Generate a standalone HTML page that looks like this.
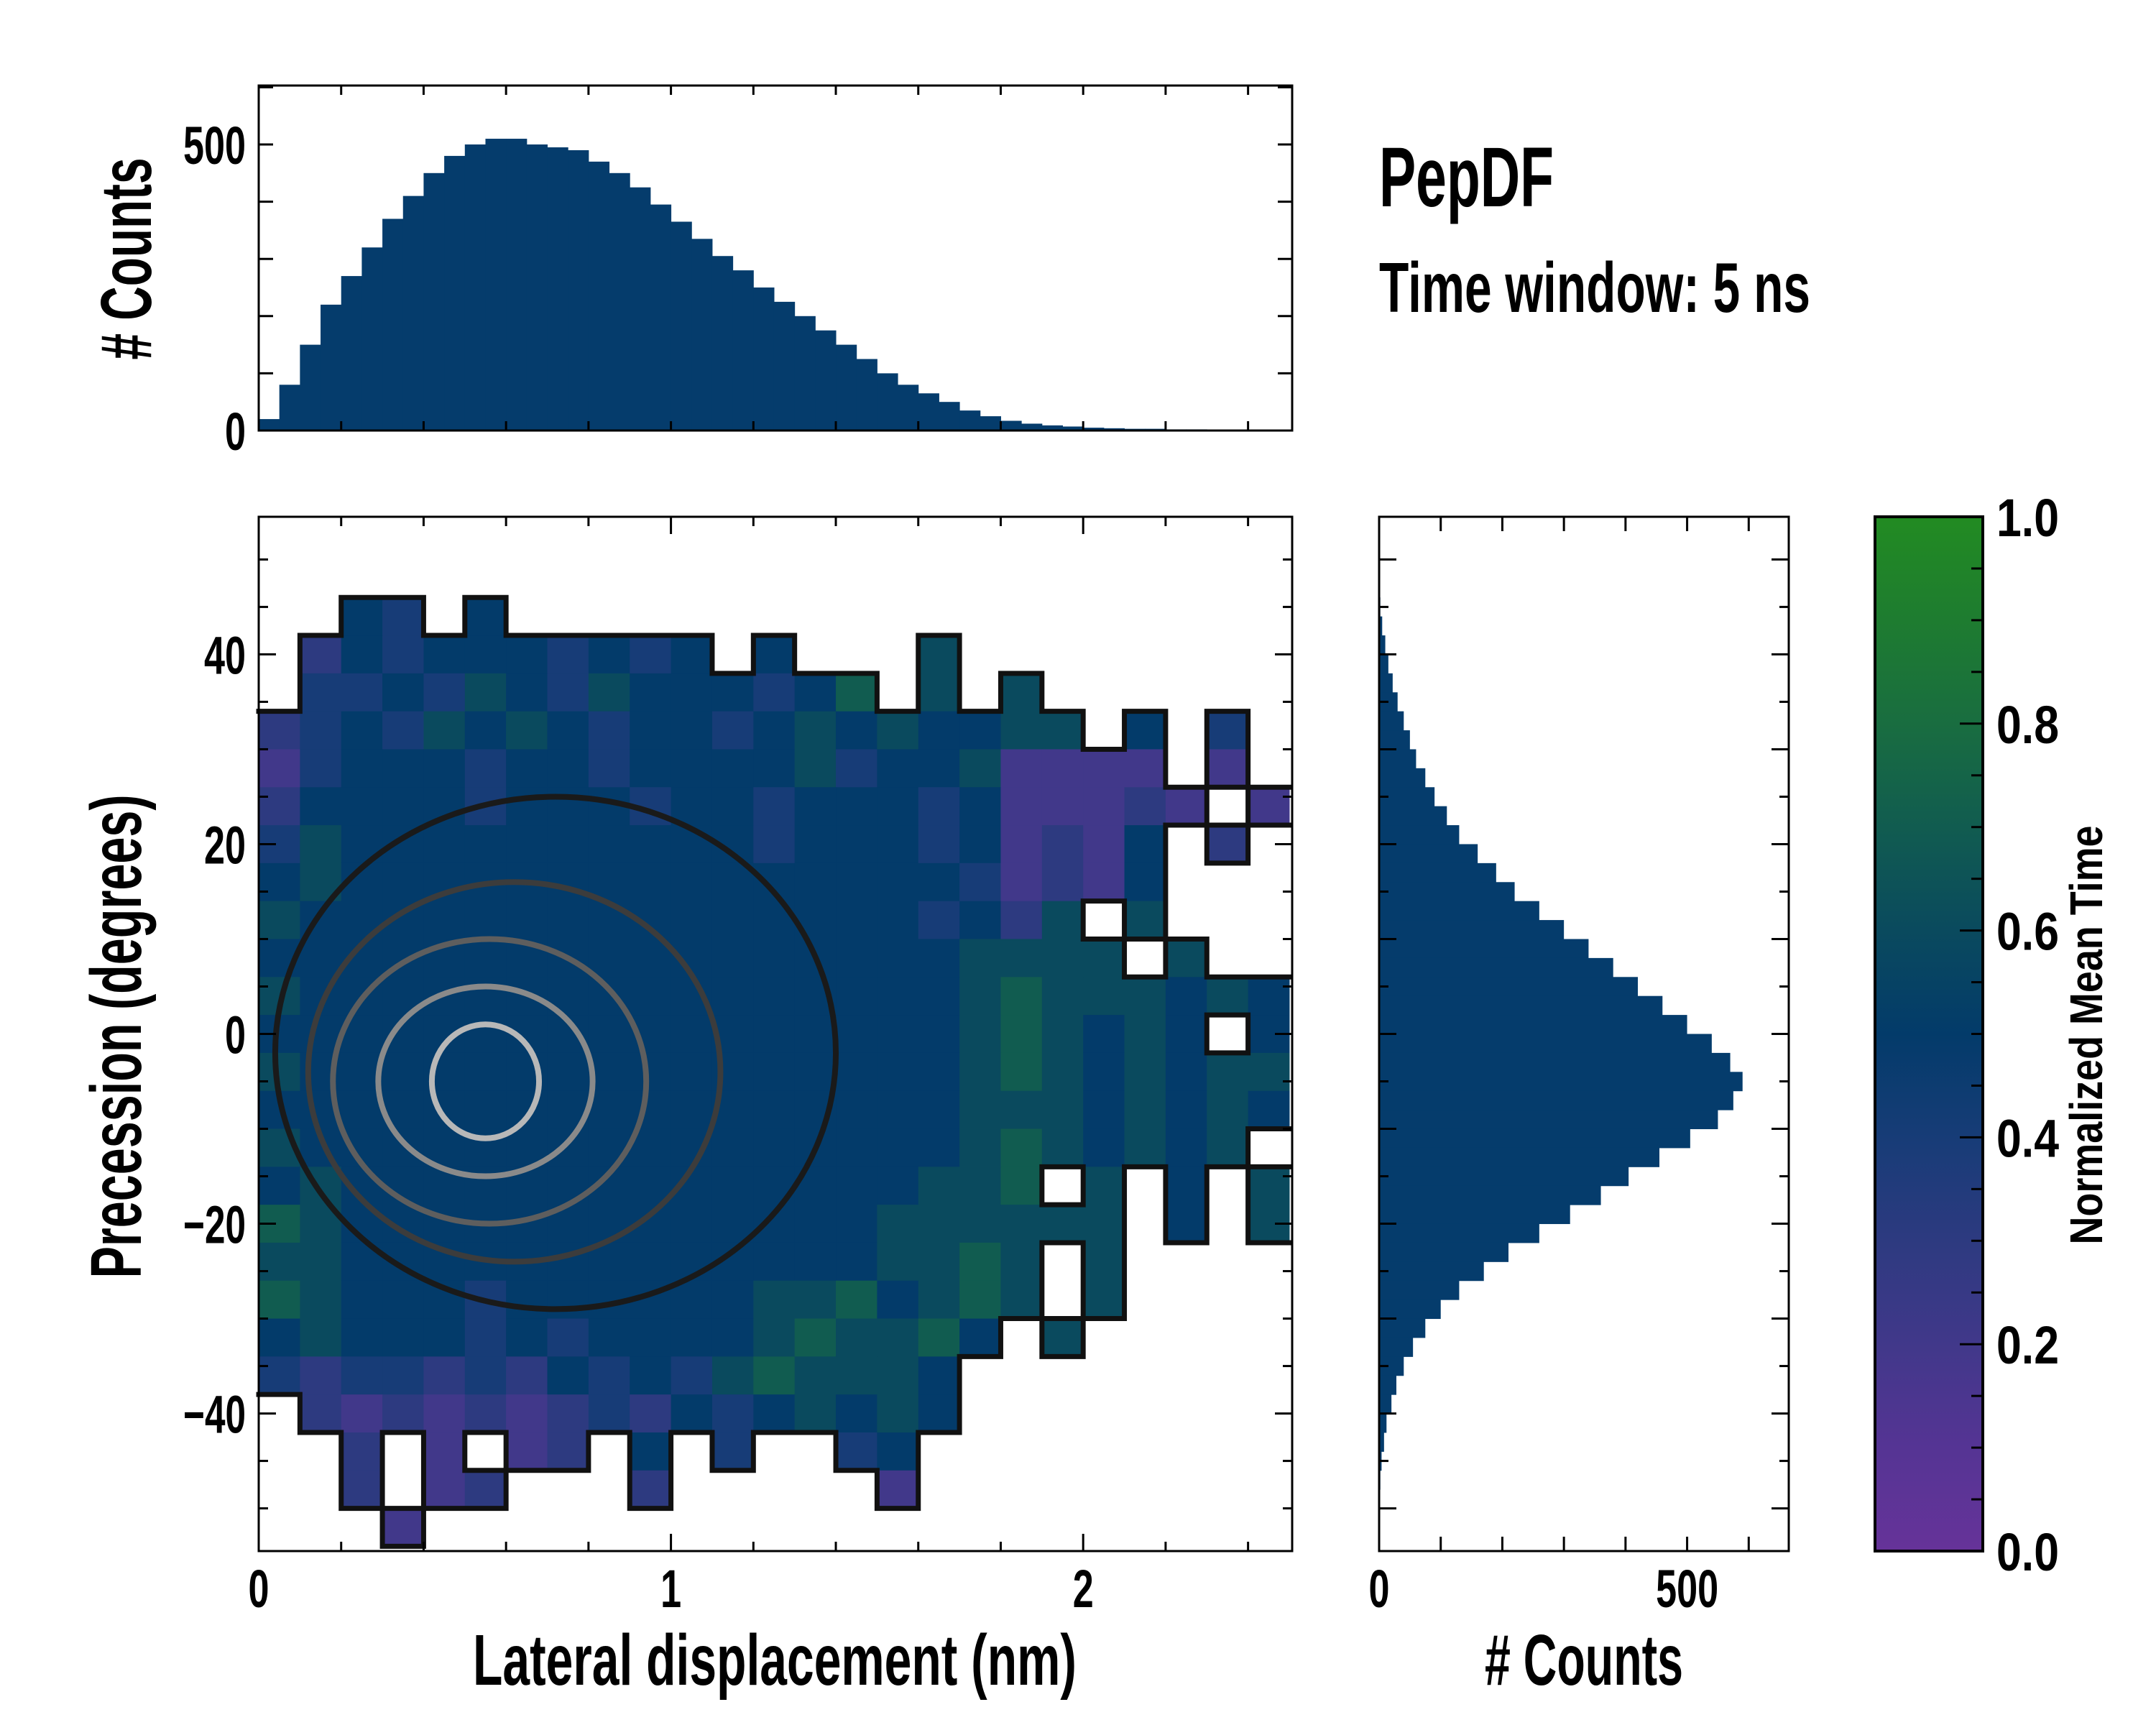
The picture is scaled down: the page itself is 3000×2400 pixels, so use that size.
<!DOCTYPE html>
<html><head><meta charset="utf-8"><style>
html,body{margin:0;padding:0;background:#fff;}
svg{display:block;font-family:"Liberation Sans Narrow","Liberation Sans",sans-serif;font-weight:bold;}
</style></head><body>
<svg id="fig" xmlns="http://www.w3.org/2000/svg" width="3000" height="2400" viewBox="0 0 3000 2400">
<defs>
<linearGradient id="cbgrad" x1="0" y1="1" x2="0" y2="0">
<stop offset="0" stop-color="#663399"/><stop offset="0.1" stop-color="#553494"/><stop offset="0.2" stop-color="#41388a"/><stop offset="0.3" stop-color="#2d3a80"/><stop offset="0.4" stop-color="#173c77"/><stop offset="0.5" stop-color="#033b6a"/><stop offset="0.6" stop-color="#0a4a5e"/><stop offset="0.7" stop-color="#115c50"/><stop offset="0.8" stop-color="#196d40"/><stop offset="0.9" stop-color="#1e7c30"/><stop offset="1" stop-color="#228b22"/>
</linearGradient>
</defs>
<g id="main"></g>
<g id="top"></g>
<g id="right"></g>
<g id="cb">
<rect x="2609" y="719" width="150" height="1439" fill="url(#cbgrad)" stroke="#000" stroke-width="4"/>
</g>
<text x="1919" y="287" font-size="118" textLength="243" lengthAdjust="spacingAndGlyphs">PepDF</text>
<text x="1919" y="434" font-size="98" textLength="600" lengthAdjust="spacingAndGlyphs">Time window: 5 ns</text>
<text x="1078" y="2344" font-size="100" text-anchor="middle" textLength="840" lengthAdjust="spacingAndGlyphs">Lateral displacement (nm)</text>
<text x="2204" y="2344" font-size="100" text-anchor="middle" textLength="276" lengthAdjust="spacingAndGlyphs"># Counts</text>
<text transform="translate(196,1442) rotate(-90)" font-size="100" text-anchor="middle" textLength="673" lengthAdjust="spacingAndGlyphs">Precession (degrees)</text>
<text transform="translate(210,360) rotate(-90)" font-size="100" text-anchor="middle" textLength="281" lengthAdjust="spacingAndGlyphs"># Counts</text>
<text transform="translate(2925,1440) rotate(-90)" font-size="64" text-anchor="middle" textLength="583" lengthAdjust="spacingAndGlyphs">Normalized Mean Time</text>
</svg>
<script>
// ---- data ----
const topBinStart = 0, topBinWidth = 0.05;
const topCounts = [20,80,150,220,270,320,370,410,450,480,500,510,510,500,495,490,470,450,425,395,365,335,305,280,250,225,200,175,150,125,100,80,65,50,35,25,17,12,9,7,5,4,3,3,2,2,1,1,1,1];
const rightBinTop = 54, rightBinWidth = 2;
const rightCounts = [0,0,0,0,2,5,10,15,22,30,40,50,60,75,90,110,130,160,190,220,260,300,340,380,420,460,500,540,570,590,575,550,505,455,405,360,310,260,210,170,130,100,75,55,40,28,20,12,8,4,2,1,0,0];
const gridX0 = 0, gridDX = 0.1, gridYTop = 54, gridDY = 4;
const heatRows = [
"","",
"..54.5",
".3545554545.5...6",
".44546546555457.6.6",
"34546565455456565566.5.4",
"2455545545555645562222.2",
"35555455545545554522232.2",
"4655555555554555452325.3",
"5655555555555555542325",
"65555555555555554536.6",
"555555555555555556666.6",
"6555555555555555567666565",
"55555555555555555676565.5",
"6555555555555555567656566",
"5555555555555555566656565",
"655555555555555556765656",
"5655555555555555667.6.5.6",
"765555555555555666666.5.6",
"6655555555555556676.6",
"7655545555556675676.6",
"565554545555676675.6",
"43443435454676665",
".3232323435456565",
"..3.2.23.5.4..45",
"..3.23...3.....2",
"...2"];
const contourCx = [0.72,0.62,0.56,0.55,0.55];
const contourCy = [-2,-4,-5,-5,-5];
const contourRx = [0.68,0.5,0.38,0.26,0.13];
const contourRy = [27,20,15,10,6];
const contourGray = ["#1a1a1a","#3c3c3c","#5e5e5e","#8a8a8a","#b8b8b8"];
const xTicksMain = [0,1,2];
const yTicksMain = [40,20,0,-20,-40];
const topYTicks = [0,500];
const rightXTicks = [0,500];
const cbTicks = [0,0.2,0.4,0.6,0.8,1.0];

// ---- geometry ----
const M = {x0:360,x1:1798,y0:719,y1:2158,xmin:0,xmax:2.507,ymin:-54.5,ymax:54.5};
const mx = v => M.x0 + (v-M.xmin)/(M.xmax-M.xmin)*(M.x1-M.x0);
const my = v => M.y1 - (v-M.ymin)/(M.ymax-M.ymin)*(M.y1-M.y0);
const T = {y0:119,y1:599,cmax:603};
const ty = c => T.y1 - c/T.cmax*(T.y1-T.y0);
const R = {x0:1919,x1:2489,cmax:665};
const rx = c => R.x0 + c/R.cmax*(R.x1-R.x0);
const cby = v => 2158 - v*(2158-719);
const NS="http://www.w3.org/2000/svg";
function mk(tag, attrs, parent){const e=document.createElementNS(NS,tag);for(const k in attrs)e.setAttribute(k,attrs[k]);parent.appendChild(e);return e;}
function lbl(parent,str,x,y,anchor){
  const t=mk('text',{x:x,y:y,"font-size":74,"text-anchor":anchor,textLength:str.length*29,lengthAdjust:"spacingAndGlyphs"},parent);
  t.textContent=str;return t;
}
const stops=[[0,[102,51,153]],[0.1,[85,52,148]],[0.2,[65,56,138]],[0.3,[45,58,128]],[0.4,[23,60,119]],[0.5,[3,59,106]],[0.6,[10,74,94]],[0.7,[17,92,80]],[0.8,[25,109,64]],[0.9,[30,124,48]],[1,[34,139,34]]];
function cmap(v){for(let i=1;i<stops.length;i++){if(v<=stops[i][0]){const a=stops[i-1],b=stops[i],t=(v-a[0])/(b[0]-a[0]);return 'rgb('+a[1].map((c,j)=>Math.round(c+(b[1][j]-c)*t)).join(',')+')';}}return 'rgb(34,139,34)';}

// ---- main heatmap ----
const gMain=document.getElementById('main');
const nCols=25;
const occ=heatRows.map(r=>{const a=[];for(let c=0;c<nCols;c++){const ch=r[c];a.push(ch&&ch!=='.'?parseInt(ch)/10:null);}return a;});
occ.forEach((row,ri)=>row.forEach((v,ci)=>{
  if(v===null)return;
  const xa=gridX0+ci*gridDX, yt=gridYTop-ri*gridDY;
  const x=mx(xa), x2=mx(Math.min(xa+gridDX,M.xmax)), y=my(yt), y2=my(yt-gridDY);
  const r=mk('rect',{x:x,y:y,width:x2-x+0.5,height:y2-y+0.5,fill:cmap(v)},gMain);
  
  
}));
let d='';
const get=(ri,ci)=>(ri>=0&&ri<occ.length&&ci>=0&&ci<nCols)?occ[ri][ci]:null;
occ.forEach((row,ri)=>row.forEach((v,ci)=>{
  if(v===null)return;
  const xa=gridX0+ci*gridDX, yt=gridYTop-ri*gridDY;
  const x=mx(xa), x2=mx(Math.min(xa+gridDX,M.xmax)), y=my(yt), y2=my(yt-gridDY);
  if(get(ri-1,ci)===null) d+=`M${x},${y}H${x2}`;
  if(get(ri+1,ci)===null) d+=`M${x},${y2}H${x2}`;
  if(ci>0&&get(ri,ci-1)===null) d+=`M${x},${y}V${y2}`;
  if(ci<nCols-1&&get(ri,ci+1)===null) d+=`M${x2},${y}V${y2}`;
}));
const bnd=mk('path',{d:d,fill:'none',stroke:'#111',"stroke-width":7,"stroke-linecap":"square"},gMain);


contourRx.forEach((rxv,i)=>{
  const cx=mx(contourCx[i]), cy=my(contourCy[i]);
  const ex=mx(contourCx[i]+rxv)-cx, ey=cy-my(contourCy[i]+contourRy[i]);
  const e=mk('ellipse',{cx:cx,cy:cy,rx:ex,ry:ey,fill:'none',stroke:contourGray[i],"stroke-width":8},gMain);
  
  
});
function frame(g,x0,y0,x1,y1,name){const f=mk('rect',{x:x0,y:y0,width:x1-x0,height:y1-y0,fill:'none',stroke:'#000',"stroke-width":3},g);}
function tick(g,x1,y1,x2,y2){mk('line',{x1:x1,y1:y1,x2:x2,y2:y2,stroke:'#000',"stroke-width":3},g);}
frame(gMain,M.x0,M.y0,M.x1,M.y1,'main-axes-frame');
for(let v=0;v<=2.5001;v+=0.2){const x=mx(v);const L=Math.abs(v-Math.round(v))<1e-6?24:13;tick(gMain,x,M.y1,x,M.y1-L);tick(gMain,x,M.y0,x,M.y0+L);}
for(let v=-50;v<=50;v+=5){const y=my(v);const L=v%20===0?24:13;tick(gMain,M.x0,y,M.x0+L,y);tick(gMain,M.x1,y,M.x1-L,y);}
xTicksMain.forEach(v=>{const t=lbl(gMain,String(v),mx(v),2236,'middle');});
yTicksMain.forEach(v=>{const t=lbl(gMain,v<0?'\u2212'+(-v):String(v),342,my(v)+27,'end');});

// ---- top histogram ----
const gTop=document.getElementById('top');
topCounts.forEach((c,i)=>{const a=topBinStart+i*topBinWidth;const x=mx(a),x2=mx(a+topBinWidth);const b=mk('rect',{x:x,y:ty(c),width:x2-x+0.5,height:T.y1-ty(c),fill:'#053c6c'},gTop);});
frame(gTop,M.x0,T.y0,M.x1,T.y1,'top-hist-frame');
for(let v=0;v<=2.5001;v+=0.2){const x=mx(v);tick(gTop,x,T.y1,x,T.y1-13);tick(gTop,x,T.y0,x,T.y0+13);}
for(let v=0;v<=600;v+=100){const y=ty(v);tick(gTop,M.x0,y,M.x0+20,y);tick(gTop,M.x1,y,M.x1-20,y);}
topYTicks.forEach(v=>{const t=lbl(gTop,String(v),342,ty(v)+27,'end');});

// ---- right histogram ----
const gR=document.getElementById('right');
rightCounts.forEach((c,i)=>{const yt=rightBinTop-i*rightBinWidth;const y=my(yt),y2=my(yt-rightBinWidth);const b=mk('rect',{x:R.x0,y:y,width:rx(c)-R.x0,height:y2-y+0.5,fill:'#053c6c'},gR);});
frame(gR,R.x0,M.y0,R.x1,M.y1,'right-hist-frame');
for(let v=0;v<=600;v+=100){const x=rx(v);tick(gR,x,M.y1,x,M.y1-20);tick(gR,x,M.y0,x,M.y0+20);}
for(let v=-50;v<=50;v+=5){const y=my(v);const L=v%10===0?24:13;tick(gR,R.x0,y,R.x0+L,y);tick(gR,R.x1,y,R.x1-L,y);}
rightXTicks.forEach(v=>{const t=lbl(gR,String(v),rx(v),2236,'middle');});

// ---- colorbar ----
const gCb=document.getElementById('cb');
for(let v=0.05;v<1;v+=0.05){const y=cby(v);const major=Math.abs(v*5-Math.round(v*5))<1e-6;tick(gCb,2759,y,2759-(major?32:16),y);}
cbTicks.forEach(v=>{const t=lbl(gCb,v.toFixed(1),2778,cby(v)+27,'start');});
</script>
</body></html>
